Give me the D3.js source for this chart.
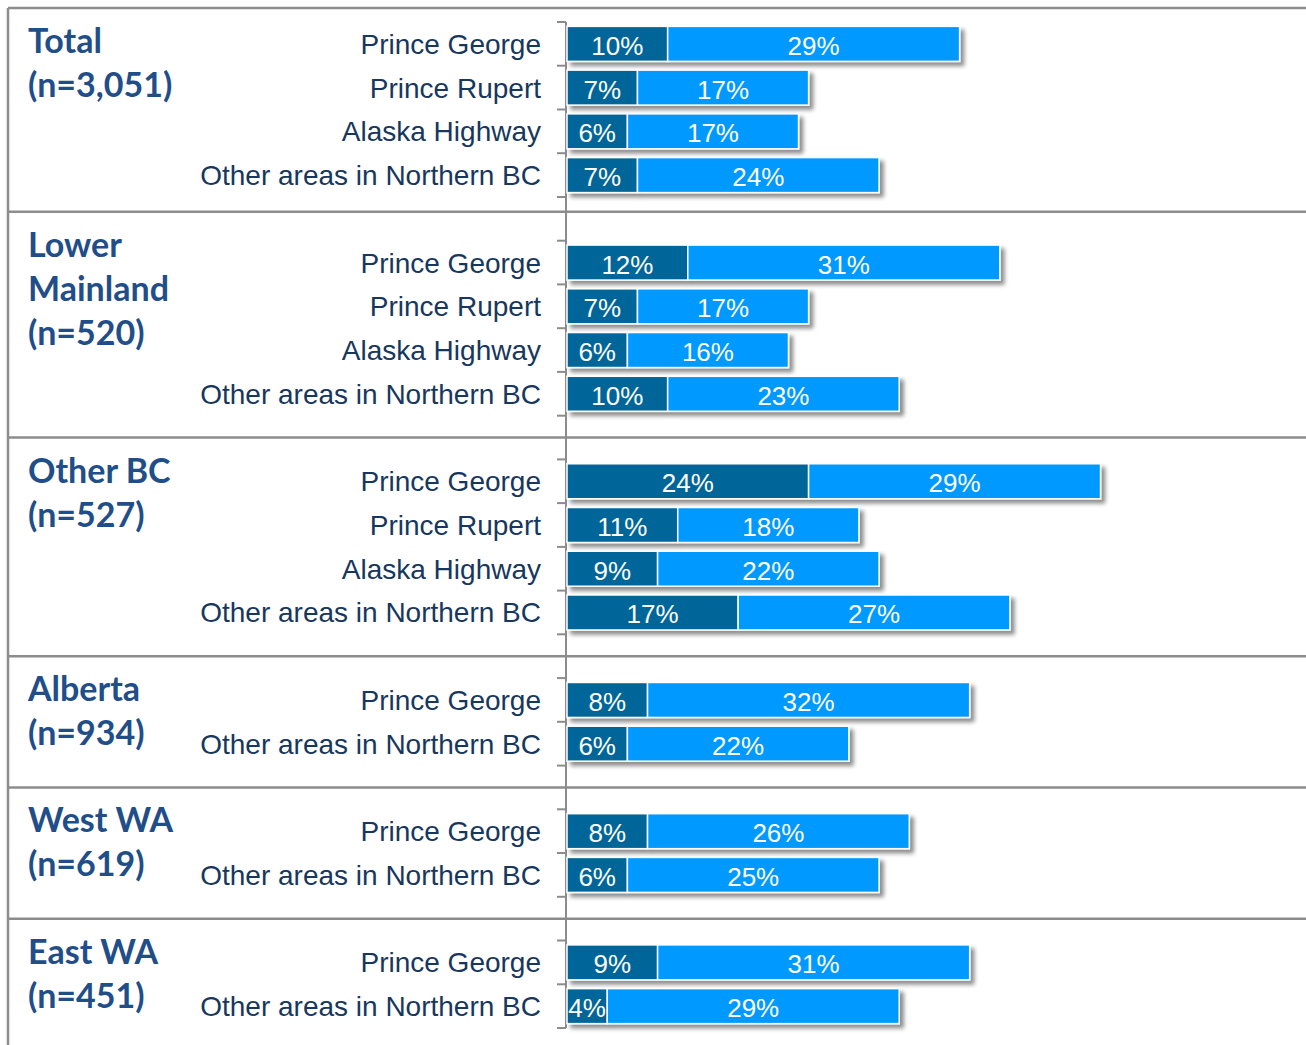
<!DOCTYPE html>
<html>
<head>
<meta charset="utf-8">
<script src="https://cdn.jsdelivr.net/npm/d3@7"></script>
<style>
  body { margin: 0; background: #fff; }
  svg { display: block; }
</style>
</head>
<body>
<div class="canvas"></div>
<script>
// data
const groups = ['Total', 'Lower Mainland', 'Other BC', 'Alberta', 'West WA', 'East WA'];
const sampleSizes = ['3,051', '520', '527', '934', '619', '451'];
const groupCategories = [
    ['Prince George', 'Prince Rupert', 'Alaska Highway', 'Other areas in Northern BC'],
    ['Prince George', 'Prince Rupert', 'Alaska Highway', 'Other areas in Northern BC'],
    ['Prince George', 'Prince Rupert', 'Alaska Highway', 'Other areas in Northern BC'],
    ['Prince George', 'Other areas in Northern BC'],
    ['Prince George', 'Other areas in Northern BC'],
    ['Prince George', 'Other areas in Northern BC']
];
const series1 = [[10, 7, 6, 7], [12, 7, 6, 10], [24, 11, 9, 17], [8, 6], [8, 6], [9, 4]];
const series2 = [[29, 17, 17, 24], [31, 17, 16, 23], [29, 18, 22, 27], [32, 22], [26, 25], [31, 29]];

const dims = { width: 1306, height: 1045 };
const colors = { dark: '#006699', light: '#0099ff', label: '#1f4e89', cat: '#17375e', rule: '#8c8c8c' };

// one slot per bar, plus an empty slot between groups
const slots = [];
groups.forEach((g, gi) => {
    if (gi > 0) slots.push({ key: 'gap' + gi, gap: true, group: gi });
    groupCategories[gi].forEach((c, ci) => {
        slots.push({
            key: g + '|' + c, gap: false, group: gi, category: c,
            v1: series1[gi][ci], v2: series2[gi][ci]
        });
    });
});
const rows = slots.filter(d => !d.gap);
const gaps = slots.filter(d => d.gap);

const svg = d3.select('.canvas')
    .append('svg')
    .attr('width', dims.width)
    .attr('height', dims.height);

const defs = svg.append('defs');
const shadow = defs.append('filter')
    .attr('id', 'shadow')
    .attr('x', '-5%').attr('y', '-20%')
    .attr('width', '115%').attr('height', '160%');
shadow.append('feGaussianBlur').attr('in', 'SourceAlpha').attr('stdDeviation', 2.2);
shadow.append('feOffset').attr('dx', 4).attr('dy', 4).attr('result', 'off');
shadow.append('feComponentTransfer').append('feFuncA').attr('type', 'linear').attr('slope', 0.45);
const merge = shadow.append('feMerge');
merge.append('feMergeNode');
merge.append('feMergeNode').attr('in', 'SourceGraphic');

const x = d3.scaleLinear()
    .domain([0, 60])
    .range([567, 567 + 604]);

const y = d3.scaleBand()
    .domain(slots.map(d => d.key))
    .range([22, 1028])
    .padding(0);

const step = y.step();
const barH = step * 0.8;
const barOff = step * 0.1;

// frame: top and left border, separators between groups
// (the first separator sits a little higher in the original)
const sepY = gaps.map((d, i) => y(d.key) + step / 2 - (i === 0 ? 7 : 0));
const groupTop = [8, ...sepY];

svg.append('line')
    .attr('x1', 8).attr('x2', dims.width)
    .attr('y1', 8).attr('y2', 8)
    .attr('stroke', colors.rule).attr('stroke-width', 2.5);
svg.append('line')
    .attr('x1', 8).attr('x2', 8)
    .attr('y1', 8).attr('y2', dims.height)
    .attr('stroke', colors.rule).attr('stroke-width', 2.5);
svg.selectAll('line.sep')
    .data(sepY)
    .enter().append('line')
    .attr('class', 'sep')
    .attr('x1', 8).attr('x2', dims.width)
    .attr('y1', d => d).attr('y2', d => d)
    .attr('stroke', colors.rule).attr('stroke-width', 2.5);

// axis line with ticks at the bar slot edges
const axisX = x(0) - 1;
svg.append('line')
    .attr('x1', axisX).attr('x2', axisX)
    .attr('y1', y.range()[0]).attr('y2', y.range()[1])
    .attr('stroke', colors.rule).attr('stroke-width', 2);

const tickYs = Array.from(new Set(rows.flatMap(d => [y(d.key), y(d.key) + step].map(v => Math.round(v * 10) / 10))));
svg.selectAll('line.tick')
    .data(tickYs)
    .enter().append('line')
    .attr('class', 'tick')
    .attr('x1', axisX - 9).attr('x2', axisX)
    .attr('y1', d => d).attr('y2', d => d)
    .attr('stroke', colors.rule).attr('stroke-width', 2);

// group labels
const glabels = svg.selectAll('text.group')
    .data(groups)
    .enter().append('text')
    .attr('class', 'group')
    .attr('x', 28)
    .attr('y', (d, i) => groupTop[i] + 45)
    .attr('fill', colors.label)
    .style('font-family', 'Lato, "Open Sans", sans-serif')
    .style('font-weight', 700)
    .style('font-size', '34px');

glabels.each(function(d, i) {
    const el = d3.select(this);
    // wrap long names word by word
    const words = d.split(' ');
    const lines = [];
    let line = [];
    words.forEach(w => {
        line.push(w);
        el.text(line.join(' '));
        if (this.getComputedTextLength() > 180 && line.length > 1) {
            line.pop();
            lines.push(line.join(' '));
            line = [w];
        }
    });
    lines.push(line.join(' '));
    lines.push('(n=' + sampleSizes[i] + ')');
    el.text(null);
    lines.forEach((l, li) => {
        el.append('tspan')
            .attr('x', 28)
            .attr('dy', li === 0 ? 0 : 44)
            .text(l);
    });
});

// category labels
svg.selectAll('text.cat')
    .data(rows)
    .enter().append('text')
    .attr('class', 'cat')
    .attr('x', x(0) - 26)
    .attr('y', d => y(d.key) + step / 2 + 10)
    .attr('text-anchor', 'end')
    .attr('fill', colors.cat)
    .style('font-family', '"Liberation Sans", Arial, sans-serif')
    .style('font-size', '28px')
    .text(d => d.category);

// bars
const bars = svg.selectAll('g.bar')
    .data(rows)
    .enter().append('g')
    .attr('class', 'bar')
    .attr('filter', 'url(#shadow)');

bars.append('rect')
    .attr('x', d => x(0))
    .attr('y', d => y(d.key) + barOff)
    .attr('width', d => x(d.v1) - x(0))
    .attr('height', barH)
    .attr('fill', colors.dark)
    .attr('stroke', '#fff')
    .attr('stroke-width', 1.5);

bars.append('rect')
    .attr('x', d => x(d.v1))
    .attr('y', d => y(d.key) + barOff)
    .attr('width', d => x(d.v1 + d.v2) - x(d.v1))
    .attr('height', barH)
    .attr('fill', colors.light)
    .attr('stroke', '#fff')
    .attr('stroke-width', 1.5);

const valueStyle = sel => sel
    .attr('text-anchor', 'middle')
    .attr('fill', '#fff')
    .style('font-family', '"Liberation Sans", Arial, sans-serif')
    .style('font-size', '26px');

svg.selectAll('text.v1')
    .data(rows)
    .enter().append('text')
    .attr('class', 'v1')
    .attr('x', d => (x(0) + x(d.v1)) / 2)
    .attr('y', d => y(d.key) + step / 2 + 11)
    .call(valueStyle)
    .text(d => d.v1 + '%');

svg.selectAll('text.v2')
    .data(rows)
    .enter().append('text')
    .attr('class', 'v2')
    .attr('x', d => (x(d.v1) + x(d.v1 + d.v2)) / 2)
    .attr('y', d => y(d.key) + step / 2 + 11)
    .call(valueStyle)
    .text(d => d.v2 + '%');
</script>
</body>
</html>
